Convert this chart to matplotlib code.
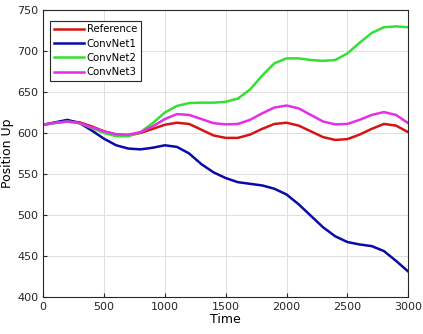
import matplotlib
matplotlib.use("Agg")
import matplotlib.pyplot as plt

time = list(range(0, 3001, 100))

reference = [610, 612.5, 614.5, 613, 608, 602, 598, 597, 600, 605, 610,
             612.5, 611, 604, 597, 594, 594, 598, 605, 611, 612.5,
             609, 602, 595, 591.5, 592.5, 598, 605, 611, 609, 601]
convnet1 = [610, 613, 616, 612, 603, 593, 585, 581, 580, 582, 585,
            583, 575, 562, 552, 545, 540, 538, 536, 532, 525,
            513, 499, 485, 474, 467, 464, 462, 456, 444, 431]
convnet2 = [610, 612, 614, 612, 606, 600, 596, 596, 601, 612, 625,
            633, 636.5, 637, 637, 638, 642, 653, 670, 685, 691,
            691, 689, 688, 689, 697, 710, 722, 729, 730, 729]
convnet3 = [610, 612.5, 614, 612, 607, 602, 598.5, 598, 601, 608, 617,
            623, 622, 617, 612, 610.5, 611, 616, 624, 631, 633.5,
            630, 622, 614, 610.5, 611, 616, 622, 625.5, 622, 612]

series = [
    ("Reference", reference, "#d41515"),
    ("ConvNet1", convnet1, "#0a0aa8"),
    ("ConvNet2", convnet2, "#33e033"),
    ("ConvNet3", convnet3, "#e62ee6"),
]

fig = plt.figure(figsize=(4.23, 3.34), dpi=100)
ax = fig.add_axes([0.102, 0.111, 0.863, 0.859])

for name, vals, color in series:
    ax.plot(time, vals, color=color, linewidth=1.8, label=name)

ax.set_xlim(0, 3000)
ax.set_ylim(400, 750)
ax.set_xticks(range(0, 3001, 500))
ax.set_yticks(range(400, 751, 50))
ax.grid(True, color="#e0e0e0", linewidth=0.7)
ax.set_axisbelow(True)
ax.tick_params(direction="in", labelsize=8, colors="#262626", length=3)
for s in ax.spines.values():
    s.set_color("#262626")
    s.set_linewidth(0.8)
ax.set_xlabel("Time", fontsize=9, labelpad=1)
ax.set_ylabel("Position Up", fontsize=9, labelpad=2)

leg = ax.legend(loc="upper left", fontsize=7.3, fancybox=False, framealpha=1,
                edgecolor="#262626", handlelength=3.0, borderpad=0.35,
                labelspacing=0.42, handletextpad=0.25, borderaxespad=0,
                bbox_to_anchor=(0.019, 0.962))
leg.get_frame().set_linewidth(0.8)

fig.savefig("out.png", dpi=100)
plt.close(fig)
